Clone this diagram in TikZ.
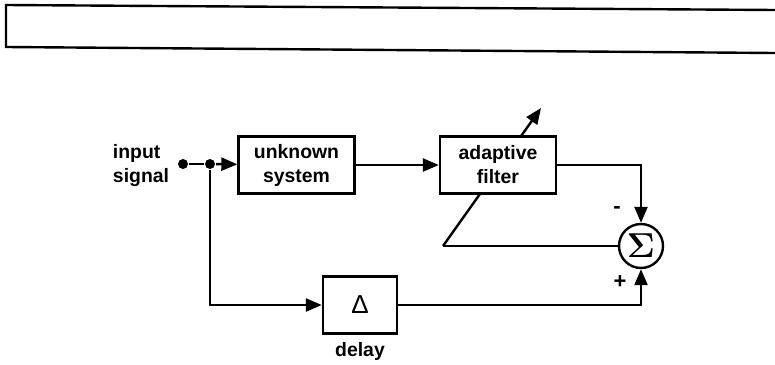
\documentclass[tikz,border=0pt]{standalone}
\usepackage{fontspec}
\setmainfont{Liberation Sans}
\usepackage{amsmath}
\usetikzlibrary{calc,arrows.meta}

\begin{document}
\begin{tikzpicture}[x=0.5pt,y=-0.5pt,line width=1.2pt,
        font=\bfseries\fontsize{9.7}{12}\selectfont,
        blk/.style={draw,fill=white,minimum width=58pt,minimum height=28.5pt,inner sep=0pt,align=center},
        arr/.style={-{Triangle[length=8pt,width=6.5pt]}},
        dot/.style={circle,fill,inner sep=0pt,minimum size=5pt}]
                \useasboundingbox (0,0) rectangle (775,364);
                \draw (775,10) -- (6,5) -- (6,47) -- (775,53);
                % feedback path through the filter
                \coordinate (fb) at (443,246);
                \coordinate (tip) at (541,108);
                \draw[arr] (fb) -- (tip);
                \node[align=left] (lbl) at (141,166) {input\\signal};
                \node[dot] (in) at (183,164) {};
                \node[dot] (j) at (210,164) {};
                \node[blk] (sys) at (296.5,165) {unknown\\system};
                \node[blk] (filt) at (498,165) {adaptive\\filter};
                \node[draw,circle,minimum size=22pt,inner sep=0pt] (sum) at (641,246) {\fontsize{18}{18}\selectfont$\boldsymbol{\Sigma}$};
                \node[blk,minimum width=37pt] (dly) at (360,305) {\mdseries\fontsize{13}{13}\selectfont Δ};
                \node (dlbl) at (360,351) {delay};
                \node (minus) at (617,210) {\fontsize{11}{11}\selectfont -};
                \node (plus) at (620,282) {\fontsize{11}{11}\selectfont +};
                \draw (in) -- (j);
                \draw[arr] (j) -- (sys);
                \draw[arr] (sys) -- (filt);
                \draw[arr] (filt.east) -| (sum.north);
                \draw[arr] (j) |- (dly.west);
                \draw[arr] (dly.east) -| (sum.south);
                \draw (sum.west) -- (fb);
\end{tikzpicture}
\end{document}
